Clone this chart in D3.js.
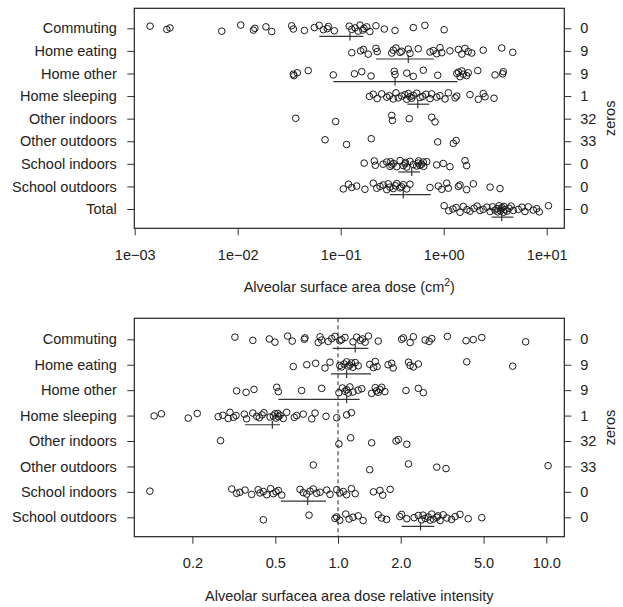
<!DOCTYPE html>
<html>
<head>
<meta charset="utf-8">
<script src="https://cdn.jsdelivr.net/npm/d3@7"></script>
<style>
  body { margin: 0; background: #fff; }
  text { font-family: "Liberation Sans", Arial, Helvetica, sans-serif; fill: #222; }
</style>
</head>
<body>
<div id="chart"></div>
<script>

// ---- data ----
var activities = ['Commuting', 'Home eating', 'Home other', 'Home sleeping', 'Other indoors',
  'Other outdoors', 'School indoors', 'School outdoors', 'Total'];

// alveolar surface area dose (cm2), one value per subject
var doseCommuting = [0.00141, 0.00205, 0.0022, 0.0070, 0.0107, 0.0142, 0.0147, 0.0188, 0.0214, 0.0334, 0.0347,
  0.0444, 0.0555, 0.0619, 0.0678, 0.0741, 0.0759, 0.0867, 0.121, 0.128, 0.138, 0.148, 0.154, 0.164, 0.168,
  0.179, 0.192, 0.220, 0.265, 0.337, 0.507, 0.657, 1.01];
var doseHomeEating = [0.128, 0.156, 0.166, 0.185, 0.220, 0.226, 0.313, 0.324, 0.344, 0.377, 0.391, 0.453, 0.471,
  0.566, 0.736, 0.792, 0.855, 0.92, 0.957, 1.15, 1.39, 1.50, 1.61, 1.73, 1.87, 2.42, 3.66, 4.68];
var doseHomeOther = [0.0347, 0.0352, 0.0379, 0.0484, 0.0847, 0.136, 0.160, 0.197, 0.331, 0.337, 0.438, 0.507,
  0.634, 0.875, 1.34, 1.39, 1.44, 1.50, 1.55, 1.67, 1.73, 2.14, 3.15, 3.74, 3.79];
var doseHomeSleeping = [0.190, 0.207, 0.226, 0.250, 0.280, 0.297, 0.324, 0.344, 0.362, 0.391, 0.421, 0.438,
  0.453, 0.471, 0.489, 0.507, 0.547, 0.589, 0.625, 0.673, 0.736, 0.764, 0.855, 0.92, 1.03, 1.11, 1.29, 1.34,
  1.80, 2.17, 2.42, 2.52, 3.08];
var doseOtherIndoors = [0.0366, 0.0893, 0.313, 0.318, 0.463, 0.764, 0.824];
var doseOtherOutdoors = [0.0705, 0.114, 0.198, 0.875, 1.24, 1.32];
var doseSchoolIndoors = [0.169, 0.212, 0.217, 0.258, 0.280, 0.301, 0.305, 0.313, 0.324, 0.350, 0.377, 0.405,
  0.421, 0.425, 0.438, 0.471, 0.507, 0.547, 0.566, 0.57, 0.589, 0.611, 0.634, 0.64, 0.684, 0.855, 0.99, 1.15,
  1.61, 1.67];
var doseSchoolOutdoors = [0.106, 0.119, 0.128, 0.143, 0.172, 0.207, 0.224, 0.241, 0.259, 0.280, 0.29, 0.301,
  0.324, 0.34, 0.350, 0.377, 0.39, 0.405, 0.438, 0.471, 0.736, 0.887, 0.957, 1.07, 1.11, 1.39, 1.44, 1.67,
  1.94, 2.82, 3.52];
var doseTotal = [1.01, 1.12, 1.23, 1.32, 1.44, 1.55, 1.68, 1.80, 1.97, 2.11, 2.25, 2.42, 2.63, 2.82, 2.98,
  3.15, 3.29, 3.36, 3.44, 3.56, 3.60, 3.68, 3.81, 3.85, 3.94, 4.12, 4.31, 4.51, 4.74, 5.30, 5.75, 6.15, 6.62,
  7.41, 8.00, 8.47, 10.4];

var doseMedian = [0.123, 0.453, 0.337, 0.56, null, null, 0.489, 0.405, 3.66];
var doseLow = [0.062, 0.22, 0.0847, 0.444, null, null, 0.362, 0.301, 2.92];
var doseHigh = [0.166, 0.805, 1.36, 0.724, null, null, 0.589, 0.748, 4.74];
var doseZeros = [0, 9, 9, 1, 32, 33, 0, 0, 0];
var doseTicks = [1e-3, 1e-2, 1e-1, 1, 10];

// relative intensity (activity dose rate / daily mean)
var relCommuting = [0.320, 0.390, 0.468, 0.498, 0.573, 0.603, 0.689, 0.694, 0.804, 0.820, 0.835, 0.898, 0.933,
  0.967, 1.02, 1.04, 1.08, 1.18, 1.23, 1.28, 1.31, 1.35, 1.40, 1.56, 2.02, 2.06, 2.22, 2.30, 2.62, 2.74, 2.82,
  3.35, 4.12, 4.46, 4.90, 7.96];
var relHomeEating = [0.610, 0.708, 0.781, 0.866, 0.915, 1.02, 1.04, 1.07, 1.10, 1.12, 1.14, 1.16, 1.18, 1.21,
  1.25, 1.42, 1.48, 1.51, 1.54, 1.74, 1.81, 1.84, 2.18, 2.22, 2.30, 2.43, 4.15, 6.90];
var relHomeOther = [0.326, 0.362, 0.395, 0.508, 0.517, 0.669, 0.835, 1.01, 1.05, 1.08, 1.10, 1.12, 1.14, 1.18,
  1.25, 1.30, 1.45, 1.51, 1.53, 1.56, 1.59, 1.62, 1.68, 2.12, 2.43, 2.57];
var relHomeSleeping = [0.131, 0.142, 0.191, 0.211, 0.266, 0.280, 0.297, 0.303, 0.315, 0.324, 0.355, 0.364,
  0.390, 0.407, 0.419, 0.432, 0.441, 0.472, 0.489, 0.498, 0.504, 0.514, 0.518, 0.527, 0.546, 0.567, 0.617,
  0.633, 0.681, 0.748, 0.776, 0.876, 0.986, 1.10, 1.16];
var relOtherIndoors = [0.273, 1.01, 1.15, 1.45, 1.90, 1.95, 2.14];
var relOtherOutdoors = [0.761, 1.42, 2.18, 2.98, 3.30, 10.2];
var relSchoolIndoors = [0.125, 0.309, 0.326, 0.338, 0.358, 0.385, 0.414, 0.422, 0.438, 0.455, 0.475, 0.489,
  0.504, 0.517, 0.537, 0.657, 0.681, 0.708, 0.734, 0.761, 0.790, 0.820, 0.883, 0.915, 0.986, 1.02, 1.06, 1.10,
  1.16, 1.21, 1.48, 1.59, 1.64, 1.78];
var relSchoolOutdoors = [0.438, 0.726, 0.967, 0.986, 1.02, 1.09, 1.13, 1.18, 1.25, 1.32, 1.56, 1.62, 1.71, 1.98,
  2.02, 2.14, 2.32, 2.43, 2.52, 2.56, 2.62, 2.71, 2.77, 2.82, 2.87, 2.98, 3.02, 3.09, 3.20, 3.33, 3.51, 3.65,
  3.85, 4.22, 4.90];

var relMedian = [1.21, 1.10, 1.10, 0.484, null, null, 0.715, 2.49];
var relLow = [0.943, 0.926, 0.517, 0.358, null, null, 0.531, 2.02];
var relHigh = [1.40, 1.44, 1.27, 0.527, null, null, 0.876, 2.90];
var relZeros = [0, 9, 9, 1, 32, 33, 0, 0];
var relTicks = [0.2, 0.5, 1, 2, 5, 10];

// ---- drawing ----
var W = 623, H = 607;
var FONT = 14.5;
// fixed vertical scatter pattern so overlapping points stay visible
var spread = [-0.6, 0.3, -0.1, 0.8, -0.9, 0.5, 0.0, -0.4, 0.9, -0.7, 0.2, 0.6, -0.2, -0.8, 0.4, 0.1, -0.5, 0.7];

var svg = d3.select('#chart').append('svg')
  .attr('width', W)
  .attr('height', H);

function superFormat(d) {
  var e = Math.round(Math.log10(d));
  var s = Math.abs(e) < 10 ? '0' + Math.abs(e) : '' + Math.abs(e);
  return '1e' + (e < 0 ? '\u2212' : '+') + s;
}

function drawPanel(opts) {
  var box = opts.box;
  var cats = opts.cats;
  var x = opts.x;

  var y = d3.scalePoint()
    .domain(cats)
    .range(opts.yRange);
  var step = y.step();

  var g = svg.append('g');

  // x axis
  var xAxis = g.append('g')
    .attr('transform', 'translate(0,' + box.bottom + ')')
    .call(d3.axisBottom(x).tickValues(opts.ticks).tickFormat(opts.format)
      .tickSize(7).tickPadding(14.5));
  xAxis.select('.domain').remove();
  xAxis.selectAll('line').attr('stroke', '#333');
  xAxis.selectAll('text').attr('font-size', FONT).style('font-family', null);

  // left category axis
  var yAxis = g.append('g')
    .attr('transform', 'translate(' + box.left + ',0)')
    .call(d3.axisLeft(y).tickSize(7).tickPadding(10.5));
  yAxis.select('.domain').remove();
  yAxis.selectAll('line').attr('stroke', '#333');
  yAxis.selectAll('text').attr('font-size', FONT).style('font-family', null);

  // right axis with count of zeros
  var zAxis = g.append('g')
    .attr('transform', 'translate(' + box.right + ',0)')
    .call(d3.axisRight(y).tickSize(7).tickPadding(9)
      .tickFormat(function (d, i) { return opts.zeros[i]; }));
  zAxis.select('.domain').remove();
  zAxis.selectAll('line').attr('stroke', '#333');
  zAxis.selectAll('text').attr('font-size', FONT).style('font-family', null);

  g.append('text')
    .attr('transform', 'translate(' + (box.right + 51) + ',' + ((box.top + box.bottom) / 2) + ') rotate(-90)')
    .attr('text-anchor', 'middle')
    .attr('font-size', FONT)
    .text('zeros');

  // reference line
  if (opts.refLine) {
    g.append('line')
      .attr('x1', x(opts.refLine)).attr('x2', x(opts.refLine))
      .attr('y1', box.top).attr('y2', box.bottom)
      .attr('stroke', '#222')
      .attr('stroke-width', 1)
      .attr('stroke-dasharray', '4,3');
  }

  // points
  opts.series.forEach(function (vals, k) {
    g.append('g').selectAll('circle')
      .data(vals)
      .enter()
      .append('circle')
        .attr('cx', function (d) { return x(d); })
        .attr('cy', function (d, i) { return y(cats[k]) + spread[(i + k * 5) % spread.length] * 3.6; })
        .attr('r', 3.3)
        .attr('fill', 'none')
        .attr('stroke', '#1a1a1a')
        .attr('stroke-width', 1);
  });

  // median with interval
  cats.forEach(function (c, k) {
    if (opts.median[k] == null) return;
    var yy = y(c) + step * 0.36;
    g.append('line')
      .attr('x1', x(opts.low[k])).attr('x2', x(opts.high[k]))
      .attr('y1', yy).attr('y2', yy)
      .attr('stroke', '#333')
      .attr('stroke-width', 1.2);
    g.append('line')
      .attr('x1', x(opts.median[k])).attr('x2', x(opts.median[k]))
      .attr('y1', yy - 4).attr('y2', yy + 4)
      .attr('stroke', '#333')
      .attr('stroke-width', 1.2);
  });

  // frame
  g.append('rect')
    .attr('x', box.left).attr('y', box.top)
    .attr('width', box.right - box.left)
    .attr('height', box.bottom - box.top)
    .attr('fill', 'none')
    .attr('stroke', '#222')
    .attr('stroke-width', 1.2);

  // title
  var title = g.append('text')
    .attr('x', (box.left + box.right) / 2)
    .attr('y', opts.titleY)
    .attr('text-anchor', 'middle')
    .attr('font-size', FONT);
  opts.title(title);
}

drawPanel({
  box: { left: 134.3, right: 564.3, top: 8.3, bottom: 228.3 },
  cats: activities,
  yRange: [28.3, 209],
  x: d3.scaleLog().domain([1e-3, 10]).range([134.7, 546.7]),
  ticks: doseTicks,
  format: superFormat,
  zeros: doseZeros,
  series: [doseCommuting, doseHomeEating, doseHomeOther, doseHomeSleeping, doseOtherIndoors,
    doseOtherOutdoors, doseSchoolIndoors, doseSchoolOutdoors, doseTotal],
  median: doseMedian,
  low: doseLow,
  high: doseHigh,
  titleY: 292,
  title: function (t) {
    t.append('tspan').text('Alveolar surface area dose (cm');
    t.append('tspan').attr('font-size', FONT * 0.72).attr('dy', -6).text('2');
    t.append('tspan').attr('dy', 6).text(')');
  }
});

drawPanel({
  box: { left: 134.3, right: 564.3, top: 318.3, bottom: 536.7 },
  cats: activities.slice(0, 8),
  yRange: [339.3, 517.3],
  x: d3.scaleLog().domain([1, 10]).range([338, 546.3]),
  ticks: relTicks,
  format: d3.format('.1f'),
  zeros: relZeros,
  series: [relCommuting, relHomeEating, relHomeOther, relHomeSleeping, relOtherIndoors,
    relOtherOutdoors, relSchoolIndoors, relSchoolOutdoors],
  median: relMedian,
  low: relLow,
  high: relHigh,
  refLine: 1,
  titleY: 601,
  title: function (t) {
    t.text('Alveolar surfacea area dose relative intensity');
  }
});

</script>
</body>
</html>
